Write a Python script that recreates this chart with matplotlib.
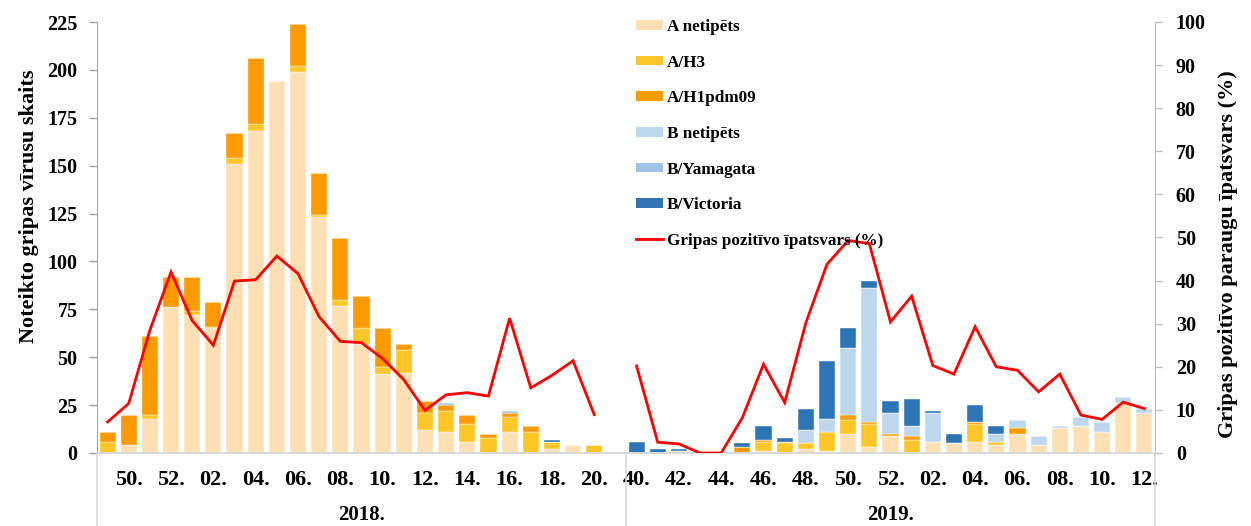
import numpy as np
import matplotlib
matplotlib.use("Agg")
import matplotlib.pyplot as plt
from matplotlib.patches import Patch
from matplotlib.lines import Line2D
import matplotlib.transforms as mtrans

plt.rcParams['font.family'] = ['Liberation Serif', 'DejaVu Serif']
plt.rcParams['font.weight'] = 'bold'

# ---- data ----
weeks_2018 = ["49", "50", "51", "52", "01", "02", "03", "04", "05", "06", "07", "08", "09",
              "10", "11", "12", "13", "14", "15", "16", "17", "18", "19", "20", "21"]
weeks_2019 = ["40", "41", "42", "43", "44", "45", "46", "47", "48", "49", "50", "51", "52",
              "01", "02", "03", "04", "05", "06", "07", "08", "09", "10", "11", "12"]
season_labels = ["2018.", "2019."]

a_net_2018 = [0, 4, 18, 76, 72, 65, 151, 168, 194, 199, 123, 77, 57, 41, 42, 12, 11, 6, 0, 11, 0, 2, 4, 0, 0]
a_h3_2018 = [6, 0, 2, 0, 2, 1, 3, 4, 0, 3, 1, 3, 8, 4, 12, 9, 11, 9, 8, 8, 11, 4, 0, 4, 0]
a_h1_2018 = [5, 16, 41, 16, 18, 13, 13, 34, 0, 22, 22, 32, 17, 20, 3, 6, 3, 5, 2, 2, 3, 0, 0, 0, 0]
b_net_2018 = [0] * 25
b_yam_2018 = [0, 0, 0, 0, 0, 0, 0, 0, 0, 0, 0, 0, 0, 0, 0, 0, 1, 0, 0, 1, 0, 0, 0, 0, 0]
b_vic_2018 = [0, 0, 0, 0, 0, 0, 0, 0, 0, 0, 0, 0, 0, 0, 0, 0, 0, 0, 0, 0, 0, 1, 0, 0, 0]
pct_2018 = [7.2, 11.5, 28.5, 42.0, 30.7, 25.0, 39.9, 40.2, 45.7, 41.6, 31.6, 25.9, 25.6,
            21.9, 17.0, 9.9, 13.5, 14.0, 13.2, 31.3, 15.1, 18.0, 21.4, 8.9, np.nan]

a_net_2019 = [0, 0, 0, 0, 0, 0, 1, 0, 2, 1, 10, 3, 9, 0, 6, 5, 6, 4, 10, 4, 13, 14, 11, 26, 21]
a_h3_2019 = [0, 0, 1, 0, 0, 0, 5, 5, 3, 10, 7, 12, 0, 7, 0, 0, 9, 2, 0, 0, 0, 0, 0, 0, 0]
a_h1_2019 = [0, 0, 0, 0, 0, 3, 1, 1, 0, 0, 3, 1, 1, 2, 0, 0, 1, 0, 3, 0, 0, 0, 0, 0, 0]
b_net_2019 = [0, 0, 0, 0, 0, 0, 0, 0, 7, 7, 35, 70, 11, 5, 15, 0, 0, 4, 4, 5, 1, 5, 5, 3, 2]
b_yam_2019 = [0] * 25
b_vic_2019 = [6, 2, 1, 0, 0, 2, 7, 2, 11, 30, 10, 4, 6, 14, 1, 5, 9, 4, 0, 0, 0, 0, 0, 0, 0]
pct_2019 = [20.2, 2.5, 2.1, 0, 0, 8.2, 20.6, 11.7, 30.2, 43.8, 49.3, 48.6, 30.4, 36.4,
            20.3, 18.3, 29.3, 20.0, 19.2, 14.2, 18.3, 8.8, 7.8, 11.8, 10.3]

series_names = ["A netipēts", "A/H3", "A/H1pdm09", "B netipēts", "B/Yamagata", "B/Victoria"]
series_colors = ["#FFE0B5", "#FFC629", "#FF9A00", "#BDD7EE", "#9DC3E6", "#2E75B6"]
line_name = "Gripas pozitīvo īpatsvars (%)"

labeled_2018 = ["50", "52", "02", "04", "06", "08", "10", "12", "14", "16", "18", "20"]
labeled_2019 = ["40", "42", "44", "46", "48", "50", "52", "02", "04", "06", "08", "10", "12"]

# ---- build ----
series = [a_net_2018 + a_net_2019, a_h3_2018 + a_h3_2019, a_h1_2018 + a_h1_2019,
          b_net_2018 + b_net_2019, b_yam_2018 + b_yam_2019, b_vic_2018 + b_vic_2019]
pct = pct_2018 + pct_2019
n1, n2 = len(weeks_2018), len(weeks_2019)
x = np.arange(n1 + n2)

fig = plt.figure(figsize=(12.51, 5.26), dpi=100)
ax = fig.add_axes([97 / 1251, 73 / 526, (1155 - 97) / 1251, (453 - 22) / 526])
ax2 = ax.twinx()

bottom = np.zeros(len(x))
for vals, name, col in zip(series, series_names, series_colors):
    v = np.array(vals, dtype=float)
    ax.bar(x, v, width=0.76, bottom=bottom, color=col, label=name, zorder=2,
           edgecolor='white', linewidth=0.3)
    bottom += v

ax2.plot(x, pct, color='#FF0000', lw=2.0, zorder=3, solid_joinstyle='miter')

ax.set_xlim(-0.5, n1 + n2 - 0.5)
ax.set_ylim(0, 225)
ax.set_yticks(np.arange(0, 226, 25))
ax2.set_ylim(0, 100)
ax2.set_yticks(np.arange(0, 101, 10))

tick_pos = [i for i, w in enumerate(weeks_2018) if w in labeled_2018] + \
           [n1 + i for i, w in enumerate(weeks_2019) if w in labeled_2019]
tick_lab = [w + "." for w in weeks_2018 if w in labeled_2018] + \
           [w + "." for w in weeks_2019 if w in labeled_2019]
ax.set_xticks(tick_pos)
ax.set_xticklabels(tick_lab, fontsize=16, fontweight='bold')
ax.tick_params(axis='x', length=0, pad=12)

ax.tick_params(axis='y', labelsize=14.5, length=6, color='#A6A6A6', width=1, pad=8)
ax2.tick_params(axis='y', labelsize=14.5, length=5, color='#BFBFBF', width=1, pad=10)
for lbl in ax.get_yticklabels() + ax2.get_yticklabels():
    lbl.set_fontweight('bold')

for a in (ax, ax2):
    a.spines['top'].set_visible(False)
    a.spines['left'].set_color('#A6A6A6')
    a.spines['right'].set_color('#BFBFBF')
    a.spines['bottom'].set_color('#D9D9D9')
    a.spines['bottom'].set_linewidth(1.2)
ax2.spines['left'].set_visible(False)
ax.spines['right'].set_visible(False)

ax.set_ylabel("Noteikto gripas vīrusu skaits", fontsize=16, fontweight='bold')
ax2.set_ylabel("Gripas pozitīvo paraugu īpatsvars (%)", fontsize=16, fontweight='bold')
ax.yaxis.set_label_coords(-0.055, 0.573)
ax2.yaxis.set_label_coords(1.060, 0.462)

# group dividers and labels
trans = mtrans.blended_transform_factory(ax.transData, ax.transAxes)
for xv in (-0.5, n1 - 0.5, n1 + n2 - 0.5):
    ax.plot([xv, xv], [0, -0.2], transform=trans, color='#D9D9D9', lw=1.2, clip_on=False)
ax.text((n1 - 1) / 2, -0.145, season_labels[0], transform=trans, ha='center', va='center',
        fontsize=15, fontweight='bold')
ax.text(n1 + (n2 - 1) / 2, -0.145, season_labels[1], transform=trans, ha='center', va='center',
        fontsize=15, fontweight='bold')

handles = [Patch(facecolor=c, edgecolor='none') for c in series_colors] + \
          [Line2D([], [], color='#FF0000', lw=2.0)]
labels = series_names + [line_name]
leg = ax2.legend(handles, labels, loc='upper left', bbox_to_anchor=(636 / 1251, 1 - 19 / 526),
                 bbox_transform=fig.transFigure, frameon=False, fontsize=12.3,
                 labelspacing=1.15, handlelength=1.6, handleheight=0.5, handletextpad=0.2,
                 borderaxespad=0, borderpad=0)
for t in leg.get_texts():
    t.set_fontweight('bold')

fig.savefig("out.png", dpi=100)
